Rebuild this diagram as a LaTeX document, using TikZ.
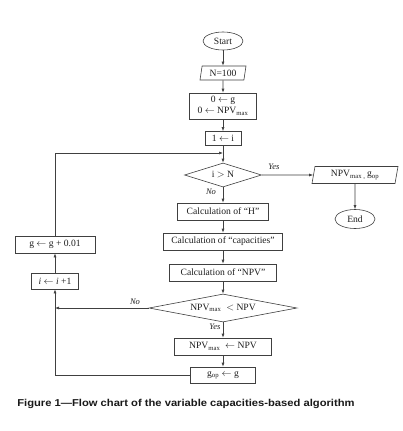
\documentclass[tikz,border=0pt]{standalone}
\usepackage{fontspec}
\usepackage{graphicx}
\setmainfont{Liberation Serif}
\newfontfamily\capfont{Liberation Sans}
\usetikzlibrary{shapes.geometric,arrows.meta}
\definecolor{lc}{gray}{0.25}
\definecolor{tc}{gray}{0.12}
\newcommand\bfs{\fontsize{9.6}{10.5}\selectfont}
\newcommand\lfs{\fontsize{8.5}{9}\selectfont}
\begin{document}
\begin{tikzpicture}[x=1pt,y=-1pt,
  line width=0.6pt,
  every node/.style={font=\bfs, text=tc},
  boxn/.style={draw=lc, rectangle, inner sep=0pt, minimum height=17pt},
  term/.style={draw=lc, ellipse, inner sep=0pt},
  para/.style={draw=lc, trapezium, trapezium left angle=72, trapezium right angle=108, trapezium stretches body, inner sep=0pt},
  dia/.style={draw=lc, diamond, inner sep=0pt},
  arr/.style={draw=lc, -{Latex[length=4pt,width=3pt]}},
  lbl/.style={font=\lfs\itshape}
]
\useasboundingbox[fill=white] (0,0) rectangle (402,431);

\node[term, minimum width=40pt, minimum height=18pt] (start) at (223,41) {Start};
\node[para, minimum width=46pt, minimum height=14pt] (n) at (223,73) {N=100};
\node[boxn, minimum width=67pt, minimum height=26pt, align=center] (init) at (223,106) {0 $\leftarrow$ g\\[0.5pt]0 $\leftarrow$ NPV\textsubscript{max}};
\node[boxn, minimum width=36pt, minimum height=14pt] (one) at (223,138.5) {1 $\leftarrow$ i};
\coordinate (m) at (223,153);
\node[dia, aspect=3.2, minimum width=77pt, minimum height=24pt] (d1) at (223,175) {i $>$ N};
\node[boxn, minimum width=91pt] (h) at (223,211.5) {Calculation of ``H''};
\node[boxn, minimum width=119pt] (cap) at (223,241.5) {Calculation of ``capacities''};
\node[boxn, minimum width=107pt] (npv) at (223,272.5) {Calculation of ``NPV''};
\node[dia, aspect=5.3, minimum width=148pt, minimum height=28pt] (d2) at (223,308) {NPV\textsubscript{max} \ $<$ NPV};
\node[boxn, minimum width=97pt] (upd) at (223,346.5) {NPV\textsubscript{max} \ $\leftarrow$ NPV};
\node[boxn, minimum width=65pt, minimum height=16pt] (gop) at (223,375) {g\textsubscript{op} $\leftarrow$ g};
\node[boxn, minimum width=47pt, minimum height=16pt] (ip) at (55,281) {\textit{i} $\leftarrow$ \textit{i} +1};
\node[boxn, minimum width=80pt] (gs) at (55,244.5) {g $\leftarrow$ g + 0.01};
\node[para, minimum width=86pt, minimum height=17pt] (out) at (355,175) {NPV\textsubscript{max , }g\textsubscript{op}};
\node[term, minimum width=40pt, minimum height=19pt] (end) at (355,219) {End};
\coordinate (l1) at (55,375);
\coordinate (l2) at (55,308);
\coordinate (l3) at (55,153);

\draw[arr] (start) -- (n);
\draw[arr] (n) -- (init);
\draw[arr] (init) -- (one);
\draw[arr] (one) -- (d1);
\draw[arr] (d1) -- (h);
\draw[arr] (h) -- (cap);
\draw[arr] (cap) -- (npv);
\draw[arr] (npv) -- (d2);
\draw[arr] (d2) -- (upd);
\draw[arr] (upd) -- (gop);
\draw[arr] (d1.east) -- (out.west);
\draw[arr] (out) -- (end);
\draw[arr] (d2.west) -- (l2);
\draw[arr] (gop.west) -- (l1) -- (ip.south);
\draw[arr] (ip) -- (gs);
\draw[arr] (gs.north) -- (l3) -- (m);

\node[lbl] (yes1) at (274,167) {Yes};
\node[lbl] (no1) at (211,191.5) {No};
\node[lbl] (no2) at (135,302) {No};
\node[lbl] (yes2) at (215,327) {Yes};

\node[anchor=west, inner sep=0pt, font=\capfont\bfseries\fontsize{10}{12}\selectfont, text=black!90] (caption) at (17,404) {\scalebox{1.12}[1]{Figure 1—Flow chart of the variable capacities-based algorithm}};
\end{tikzpicture}
\end{document}
